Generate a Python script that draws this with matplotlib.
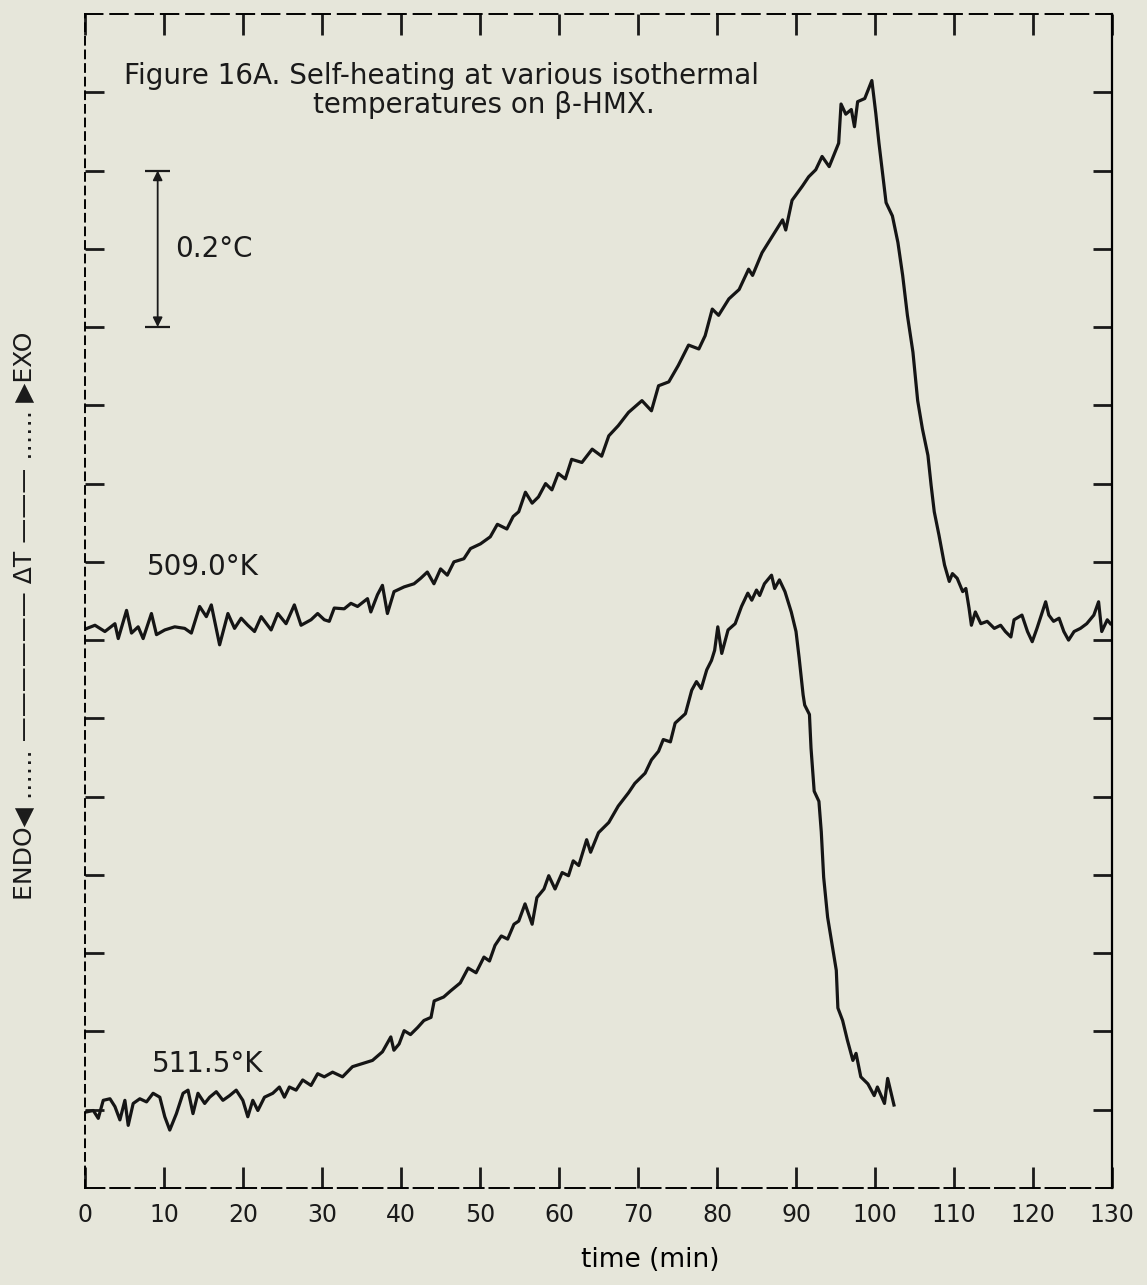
import matplotlib
matplotlib.use("Agg")
import matplotlib.pyplot as plt

plt.rcParams['font.family'] = ['DejaVu Sans']
plt.rcParams['font.size'] = 17

# trace values (time in min, delta T in deg C)
upper_t = [0.0, 1.26, 2.52, 3.79, 4.21, 5.26, 5.89, 6.73, 7.36, 8.41, 9.05, 10.10, 11.36, 12.62,
           13.46, 14.51, 15.36, 15.99, 17.04, 18.09, 18.93, 19.77, 20.61, 21.46, 22.30, 23.56,
           24.40, 25.45, 26.50, 27.35, 28.61, 29.45, 30.29, 30.92, 31.55, 32.81, 33.66, 34.50,
           35.76, 36.18, 37.02, 37.65, 38.28, 39.12, 40.39, 41.65, 42.49, 43.33, 44.17, 45.01,
           45.86, 46.70, 47.96, 48.80, 50.06, 51.3, 52.2, 53.4, 54.2, 54.9, 55.75, 56.6, 57.4,
           58.3, 59.1, 59.9, 60.8, 61.6, 62.9, 64.2, 65.4, 66.3, 67.5, 68.8, 70.5, 71.7, 72.6,
           73.9, 75.1, 76.4, 77.7, 78.5, 79.4, 80.2, 81.5, 82.8, 84.0, 84.5, 85.7, 87.0, 88.3,
           88.7, 89.5, 90.8, 91.6, 92.5, 93.3, 94.2, 94.8, 95.4, 95.7, 96.3, 97.0, 97.4, 97.8,
           98.7, 99.6, 100.1, 100.5, 101.0, 101.4, 102.2, 102.9, 103.5, 104.1, 104.8, 105.4,
           106.0, 106.7, 107.1, 107.5, 108.1, 108.8, 109.4, 109.8, 110.4, 111.1, 111.5, 111.9,
           112.2, 112.7, 113.4, 114.2, 115.1, 115.9, 116.5, 117.2, 117.6, 118.6, 119.3, 119.9,
           120.5, 121.6, 122.0, 122.6, 123.3, 123.9, 124.5, 125.2, 126.0, 126.8, 127.7, 128.3,
           128.7, 129.4, 129.8]
upper_dt = [0.714, 0.719, 0.711, 0.721, 0.702, 0.738, 0.709, 0.717, 0.702, 0.734, 0.707, 0.713,
            0.717, 0.715, 0.709, 0.743, 0.730, 0.745, 0.694, 0.734, 0.715, 0.728, 0.719, 0.711,
            0.730, 0.713, 0.734, 0.721, 0.745, 0.719, 0.726, 0.734, 0.726, 0.724, 0.741, 0.740,
            0.747, 0.743, 0.753, 0.736, 0.758, 0.770, 0.734, 0.762, 0.768, 0.772, 0.779, 0.787,
            0.772, 0.791, 0.783, 0.800, 0.804, 0.817, 0.823, 0.832, 0.848, 0.842, 0.858, 0.864,
            0.889, 0.875, 0.883, 0.900, 0.892, 0.913, 0.906, 0.931, 0.927, 0.944, 0.935, 0.961,
            0.974, 0.991, 1.006, 0.993, 1.025, 1.030, 1.051, 1.077, 1.072, 1.089, 1.123, 1.115,
            1.136, 1.148, 1.174, 1.166, 1.195, 1.216, 1.237, 1.224, 1.262, 1.280, 1.292, 1.301,
            1.318, 1.305, 1.320, 1.335, 1.385, 1.372, 1.378, 1.356, 1.388, 1.392, 1.415, 1.373,
            1.335, 1.293, 1.259, 1.242, 1.208, 1.166, 1.115, 1.068, 1.006, 0.970, 0.936, 0.898,
            0.864, 0.834, 0.796, 0.775, 0.785, 0.779, 0.762, 0.766, 0.741, 0.719, 0.736, 0.721,
            0.724, 0.715, 0.719, 0.711, 0.704, 0.726, 0.732, 0.711, 0.698, 0.715, 0.749, 0.732,
            0.724, 0.728, 0.711, 0.700, 0.711, 0.715, 0.721, 0.732, 0.749, 0.711, 0.726, 0.721]

lower_t = [0.1, 1.05, 1.68, 2.31, 3.16, 3.79, 4.42, 5.05, 5.47, 6.10, 6.94, 7.79, 8.62, 9.47,
           10.10, 10.73, 11.57, 12.41, 13.04, 13.67, 14.30, 15.15, 15.78, 16.62, 17.46, 18.30,
           19.14, 19.98, 20.61, 21.24, 21.88, 22.72, 23.77, 24.61, 25.24, 25.87, 26.72, 27.56,
           28.61, 29.45, 30.29, 31.34, 32.6, 33.86, 35.13, 36.39, 37.65, 38.71, 39.1, 39.76,
           40.4, 41.2, 42.1, 42.9, 43.8, 44.2, 45.4, 46.3, 47.5, 48.5, 49.5, 50.5, 51.2, 51.9,
           52.7, 53.5, 54.3, 54.9, 55.7, 56.6, 57.2, 58.1, 58.7, 59.5, 60.4, 61.2, 61.8, 62.5,
           63.5, 64.0, 65.0, 66.3, 67.5, 68.8, 69.6, 70.9, 71.7, 72.6, 73.2, 74.1, 74.7, 76.0,
           76.8, 77.4, 78.0, 78.7, 79.3, 79.7, 80.1, 80.6, 81.4, 82.3, 83.1, 83.9, 84.4, 85.0,
           85.4, 86.0, 86.9, 87.3, 87.9, 88.6, 89.4, 90.0, 90.4, 90.9, 91.1, 91.7, 91.9, 92.3,
           92.9, 93.2, 93.5, 94.0, 94.7, 95.1, 95.3, 95.9, 96.5, 97.2, 97.6, 98.2, 99.1, 99.9,
           100.3, 101.2, 101.6, 102.4]
lower_dt = [0.097, 0.099, 0.089, 0.112, 0.114, 0.104, 0.087, 0.112, 0.080, 0.108, 0.114, 0.110,
            0.121, 0.116, 0.091, 0.074, 0.095, 0.121, 0.125, 0.095, 0.121, 0.108, 0.116, 0.123,
            0.112, 0.118, 0.125, 0.112, 0.091, 0.112, 0.099, 0.116, 0.121, 0.129, 0.116, 0.129,
            0.125, 0.138, 0.131, 0.146, 0.142, 0.148, 0.142, 0.155, 0.159, 0.163, 0.174, 0.193,
            0.176, 0.184, 0.201, 0.196, 0.205, 0.214, 0.218, 0.239, 0.244, 0.252, 0.262, 0.281,
            0.275, 0.295, 0.290, 0.310, 0.322, 0.318, 0.337, 0.341, 0.363, 0.337, 0.371, 0.382,
            0.399, 0.382, 0.403, 0.399, 0.418, 0.412, 0.445, 0.429, 0.454, 0.467, 0.488, 0.505,
            0.517, 0.530, 0.547, 0.558, 0.573, 0.570, 0.594, 0.606, 0.636, 0.647, 0.638, 0.662,
            0.674, 0.687, 0.717, 0.683, 0.713, 0.721, 0.743, 0.760, 0.751, 0.764, 0.757, 0.772,
            0.783, 0.766, 0.777, 0.762, 0.736, 0.711, 0.677, 0.630, 0.617, 0.605, 0.562, 0.507,
            0.494, 0.455, 0.397, 0.346, 0.303, 0.278, 0.230, 0.214, 0.189, 0.163, 0.172, 0.142,
            0.133, 0.118, 0.129, 0.108, 0.140, 0.106]

x_ticks = list(range(0, 131, 10))
y_ticks = [0.1 * k for k in range(1, 15)]

curve_labels = ["509.0°K", "511.5°K"]

bg = '#e6e6da'
ink = '#1a1a1a'
fig = plt.figure(figsize=(11.47, 12.85), dpi=100, facecolor=bg)
ax = fig.add_axes([0.0741, 0.0755, 0.8954, 0.9136], facecolor=bg)

ax.plot(upper_t, upper_dt, color='#151515', lw=2.3, solid_joinstyle='round')
ax.plot(lower_t, lower_dt, color='#151515', lw=2.3, solid_joinstyle='round')

ax.set_xlim(0, 130)
ax.set_ylim(0, 1.5)

ax.set_xticks(x_ticks)
ax.set_xticklabels([str(v) for v in x_ticks])
ax.set_yticks(y_ticks)
ax.set_yticklabels([])
ax.tick_params(axis='x', direction='in', top=True, bottom=True, length=15, width=2, pad=11,
               labelsize=17, colors=ink)
ax.tick_params(axis='y', direction='in', left=True, right=True, length=14, width=2, colors=ink)

# scanned frame: broken strokes on most sides
ax.spines['top'].set_linestyle((0, (9, 4)))
ax.spines['left'].set_linestyle((0, (4, 3)))
ax.spines['bottom'].set_linestyle((0, (10, 3)))
for side in ['top', 'left', 'bottom']:
    ax.spines[side].set_linewidth(1.4)
ax.spines['right'].set_linewidth(1.6)

ax.set_xlabel("time (min)", fontsize=19)
ax.xaxis.set_label_coords(0.55, -0.05)

fig.text(0.022, 0.521, "ENDO◀ ‥‥‥ —————— ΔT ——— ‥‥‥ ▶EXO", rotation=90,
         ha='center', va='center', fontsize=18, color=ink)

ax.text(4.9, 1.411, "Figure 16A. Self-heating at various isothermal", fontsize=20,
        va='baseline', color=ink)
ax.text(28.8, 1.373, "temperatures on β-HMX.", fontsize=20, va='baseline', color=ink)

# 0.2 deg C scale bar
ax.annotate('', xy=(9.2, 1.3), xytext=(9.2, 1.1),
            arrowprops=dict(arrowstyle='<|-|>', lw=1.3, color=ink, mutation_scale=14,
                            shrinkA=0, shrinkB=0))
ax.hlines([1.3, 1.1], 7.6, 10.8, color=ink, lw=1.6)
ax.text(11.4, 1.2, "0.2°C", fontsize=20, va='center', color=ink)

ax.text(7.8, 0.794, curve_labels[0], fontsize=20, va='center', color=ink)
ax.text(8.5, 0.159, curve_labels[1], fontsize=20, va='center', color=ink)

fig.savefig("out.png", dpi=100, facecolor=bg)
